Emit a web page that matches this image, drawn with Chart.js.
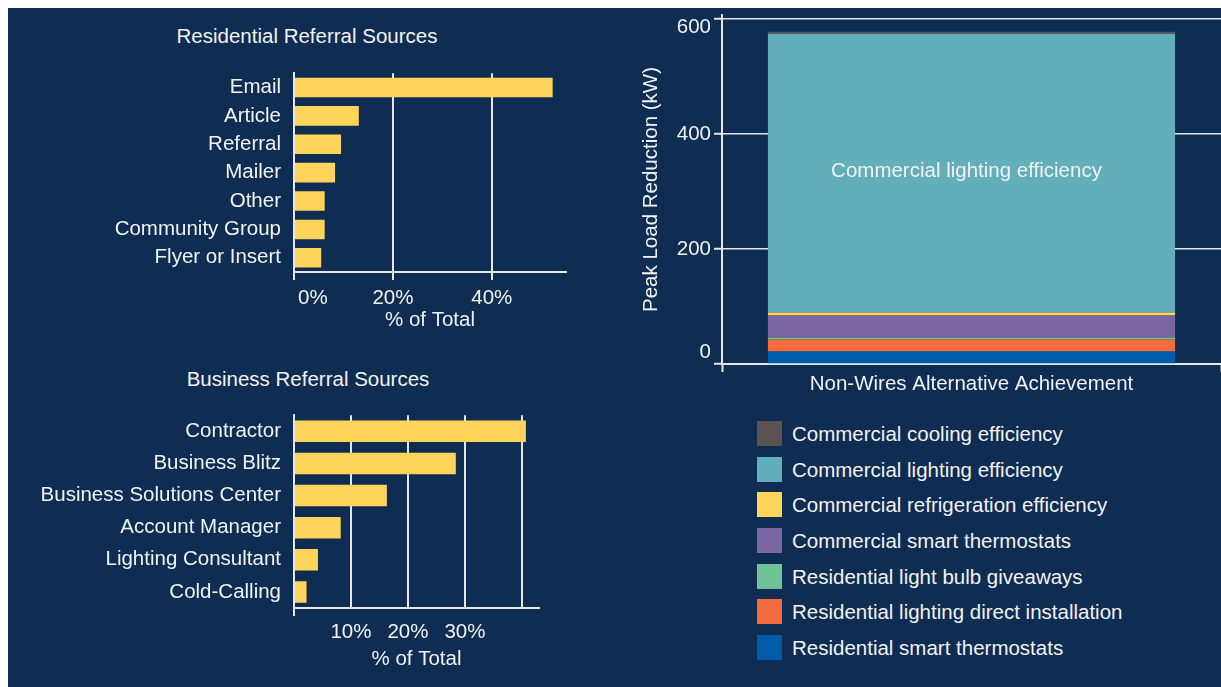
<!DOCTYPE html>
<html>
<head>
<meta charset="utf-8">
<title>Referral Sources and Non-Wires Alternative Achievement</title>
<script src="https://cdn.jsdelivr.net/npm/chart.js@4.4.1/dist/chart.umd.min.js"></script>
<style>
  body { margin: 0; width: 1221px; height: 687px; overflow: hidden; background: #fff;
         font-family: "Liberation Sans", Arial, sans-serif; }
  #panel { position: absolute; left: 8px; top: 8px; width: 1213px; height: 679px; background: #0f2c52; }
  .box { position: absolute; }
  .title { position: absolute; width: 400px; color: #f2f2f2; font-size: 20.5px; line-height: 24px;
           text-align: center; white-space: nowrap; }
  #legend { position: absolute; left: 757px; top: 421px; }
  .row { display: flex; height: 35.7px; }
  .swatch { width: 25px; height: 25px; }
  .row span { margin-left: 10px; color: #f2f2f2; font-size: 20.5px; line-height: 25px; white-space: nowrap; }
</style>
</head>
<body>
<div id="panel"></div>

<div class="title" style="left:107px; top:24px;">Residential Referral Sources</div>
<div class="box" style="left:20px; top:48px; width:560px; height:285px;"><canvas id="residentialChart"></canvas></div>

<div class="title" style="left:108px; top:367px;">Business Referral Sources</div>
<div class="box" style="left:20px; top:390px; width:560px; height:282px;"><canvas id="businessChart"></canvas></div>

<div class="box" style="left:630px; top:0px; width:591px; height:400px;"><canvas id="nwaChart"></canvas></div>
<div id="legend"></div>

<script>
// Residential referral sources (% of total)
const residentialSources = ['Email', 'Article', 'Referral', 'Mailer', 'Other', 'Community Group', 'Flyer or Insert'];
const residentialShare = [52.3, 13.1, 9.5, 8.3, 6.2, 6.2, 5.5];

// Business referral sources (% of total)
const businessSources = ['Contractor', 'Business Blitz', 'Business Solutions Center', 'Account Manager', 'Lighting Consultant', 'Cold-Calling'];
const businessShare = [40.7, 28.4, 16.3, 8.2, 4.2, 2.2];

// Peak load reduction by program (kW), stacked bottom -> top
const nwaCategories = ['Non-Wires Alternative Achievement'];
const programs = [
    'Residential smart thermostats',
    'Residential lighting direct installation',
    'Residential light bulb giveaways',
    'Commercial smart thermostats',
    'Commercial refrigeration efficiency',
    'Commercial lighting efficiency',
    'Commercial cooling efficiency'
];
const peakReduction = [21.7, 20.9, 3.5, 38.2, 5.2, 484.8, 3.5];
const programColors = ['#005ca8', '#f26c3f', '#6fc295', '#7a66a0', '#ffd45a', '#62afbb', '#5b5352'];
const labelledProgram = 'Commercial lighting efficiency';

const TEXT = '#f2f2f2';
const GRID = '#e6e6e6';
const YELLOW = '#ffd45a';
const FONT = '20.5px "Liberation Sans", Arial, sans-serif';

Chart.defaults.font.family = '"Liberation Sans", Arial, sans-serif';
Chart.defaults.font.size = 20.5;
Chart.defaults.color = TEXT;
Chart.defaults.animation = false;

// Tick labels that are kept inside the plot edges (like the source charts)
const insideLabels = {
    id: 'insideLabels',
    afterDraw(chart, args, opts) {
        if (!opts.axis) return;
        const s = chart.scales[opts.axis];
        const ctx = chart.ctx;
        ctx.save();
        ctx.font = FONT;
        ctx.fillStyle = TEXT;
        ctx.textBaseline = 'middle';
        s.ticks.forEach(t => {
            const label = opts.format(t.value);
            if (!label) return;
            const p = s.getPixelForValue(t.value);
            if (s.isHorizontal()) {
                const w = ctx.measureText(label).width;
                ctx.textAlign = 'center';
                ctx.fillText(label, Math.max(p, s.left + w / 2 + 4), s.top + opts.offset);
            } else {
                ctx.textAlign = 'right';
                ctx.fillText(label, s.right - opts.offset, Math.min(Math.max(p, s.top + 12), s.bottom - 12));
            }
        });
        ctx.restore();
    }
};

function referralChart(id, labels, values, opts) {
    return new Chart(document.getElementById(id), {
        type: 'bar',
        data: {
            labels: labels,
            datasets: [{
                data: values,
                backgroundColor: YELLOW,
                barPercentage: opts.barPct,
                categoryPercentage: 1
            }]
        },
        options: {
            indexAxis: 'y',
            responsive: true,
            maintainAspectRatio: false,
            layout: { padding: { top: 0, right: opts.padRight, left: 0, bottom: 0 } },
            plugins: {
                legend: { display: false },
                tooltip: { enabled: false },
                insideLabels: { axis: 'x', offset: opts.labelOffset, format: opts.tickLabel }
            },
            scales: {
                y: {
                    grid: { display: false, drawTicks: false },
                    border: { color: GRID, width: 2 },
                    ticks: { padding: 13, color: TEXT, autoSkip: false },
                    afterFit: s => { s.width = opts.yWidth; }
                },
                x: {
                    min: 0,
                    max: opts.max,
                    ticks: { stepSize: opts.step, includeBounds: false, display: false },
                    grid: { color: GRID, lineWidth: 2, tickLength: 8, tickWidth: 2, tickColor: opts.tickColor },
                    border: { color: GRID, width: 2 },
                    title: { display: true, text: '% of Total', padding: 0 },
                    afterFit: s => { s.height = opts.xHeight; }
                }
            }
        },
        plugins: [insideLabels]
    });
}

// 1. Residential
referralChart('residentialChart', residentialSources, residentialShare, {
    barPct: 0.69, padRight: 14, yWidth: 274, xHeight: 61,
    max: 55, step: 20, labelOffset: 26,
    tickLabel: v => v + '%',
    tickColor: GRID
});

// 2. Business (only the 0 tick mark, labels 10-30)
referralChart('businessChart', businessSources, businessShare, {
    barPct: 0.67, padRight: 41, yWidth: 274, xHeight: 64,
    max: 43, step: 10, labelOffset: 24,
    tickLabel: v => (v > 0 && v < 40) ? v + '%' : '',
    tickColor: c => (c.tick && c.tick.value === 0) ? GRID : 'rgba(0,0,0,0)'
});

// 3. Stacked peak load reduction
const segmentLabel = {
    id: 'segmentLabel',
    afterDatasetsDraw(chart) {
        const bar = chart.getDatasetMeta(programs.indexOf(labelledProgram)).data[0];
        const ctx = chart.ctx;
        ctx.save();
        ctx.fillStyle = TEXT;
        ctx.font = FONT;
        ctx.textAlign = 'center';
        ctx.textBaseline = 'middle';
        ctx.fillText(labelledProgram, bar.x - 5, (bar.y + bar.base) / 2 - 2);
        ctx.restore();
    }
};

new Chart(document.getElementById('nwaChart'), {
    type: 'bar',
    data: {
        labels: nwaCategories,
        datasets: programs.map((p, i) => ({
            label: p,
            data: [peakReduction[i]],
            backgroundColor: programColors[i],
            barPercentage: 0.816,
            categoryPercentage: 1
        }))
    },
    options: {
        responsive: true,
        maintainAspectRatio: false,
        layout: { padding: { top: 15, right: 0, left: 0, bottom: 0 } },
        plugins: {
            legend: { display: false },
            tooltip: { enabled: false },
            insideLabels: { axis: 'y', offset: 11, format: v => String(v) }
        },
        scales: {
            x: {
                stacked: true,
                grid: { drawOnChartArea: false, tickLength: 8, tickWidth: 2, tickColor: GRID },
                border: { color: GRID, width: 2 },
                ticks: { padding: 0, maxRotation: 0 },
                afterFit: s => { s.height = 36; }
            },
            y: {
                stacked: true,
                beginAtZero: true,
                max: 607,
                ticks: { stepSize: 200, includeBounds: false, display: false },
                grid: { color: GRID, lineWidth: 1.5, tickLength: 8, tickWidth: 2, tickColor: GRID },
                border: { color: GRID, width: 2 },
                title: { display: true, text: 'Peak Load Reduction (kW)', padding: { top: 9, bottom: 0 } },
                afterFit: s => { s.width = 92; }
            }
        }
    },
    plugins: [segmentLabel, insideLabels]
});

// Legend (alphabetical = top of stack first)
const legend = document.getElementById('legend');
for (let i = programs.length - 1; i >= 0; i--) {
    legend.innerHTML += `
        <div class="row">
            <div class="swatch" style="background:${programColors[i]}"></div>
            <span>${programs[i]}</span>
        </div>`;
}
</script>
</body>
</html>
